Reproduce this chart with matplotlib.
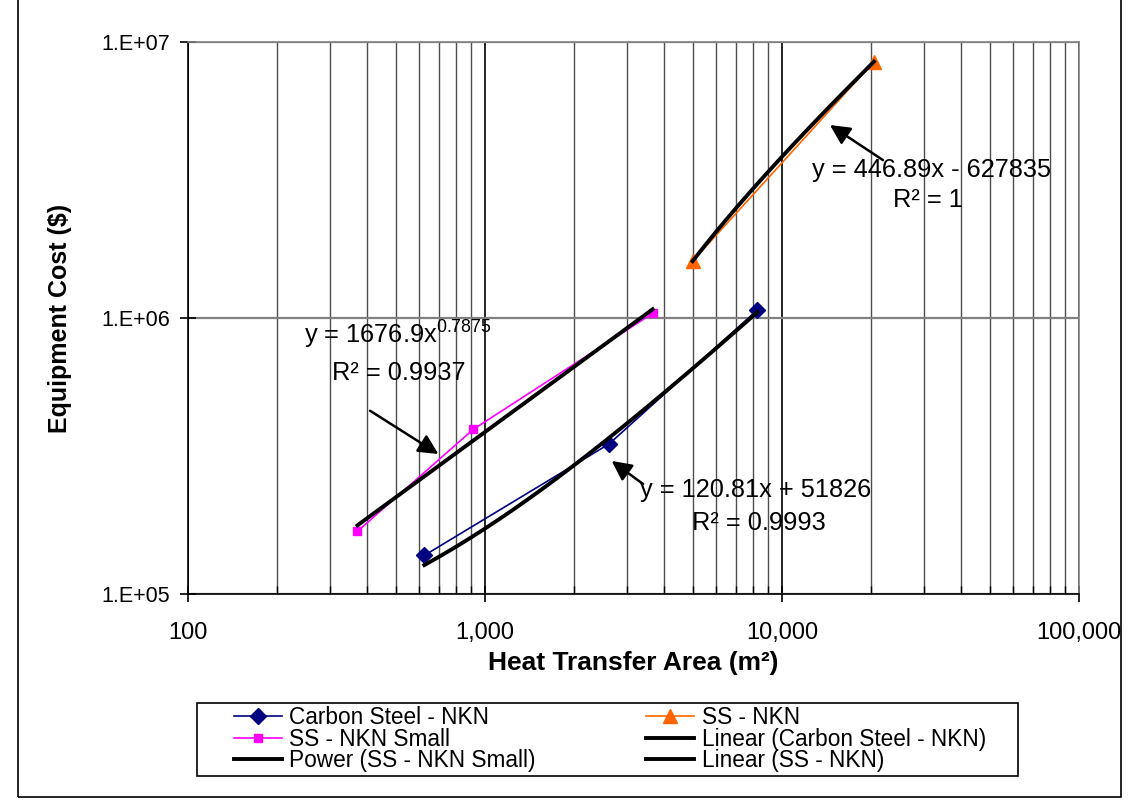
import numpy as np
import matplotlib
matplotlib.use("Agg")
import matplotlib.pyplot as plt
from matplotlib.patches import Rectangle
from matplotlib.ticker import FixedLocator, FuncFormatter, NullFormatter

plt.rcParams['font.family'] = ['Liberation Sans', 'DejaVu Sans']
plt.rcParams['mathtext.fontset'] = 'custom'
plt.rcParams['mathtext.rm'] = 'Liberation Sans'
plt.rcParams['mathtext.it'] = 'Liberation Sans:italic'

# heat transfer area (m2) and equipment cost ($) for each exchanger type
area_cs = [625, 2620, 8250]
cost_cs = [138000, 350000, 1068000]

area_ss = [5000, 20400]
cost_ss = [1606600, 8488700]

area_small = [372, 913, 3670]
cost_small = [168700, 395000, 1040000]

# trendline coefficients
cs_slope, cs_icpt = 120.81, 51826
ss_slope, ss_icpt = 446.89, -627835
small_coef, small_exp = 1676.9, 0.7875
cs_r2, ss_r2, small_r2 = 0.9993, 1, 0.9937

fig = plt.figure(figsize=(11.32, 8), dpi=100)
ax = fig.add_axes([188/1132, 1 - 594/800, (1079 - 188)/1132, (594 - 42)/800])
ax.set_xscale('log')
ax.set_yscale('log')
ax.set_xlim(100, 100000)
ax.set_ylim(1e5, 1e7)

# gridlines
ax.xaxis.set_minor_locator(FixedLocator([m * 10**e for e in (2, 3, 4) for m in range(2, 10)]))
ax.xaxis.set_minor_formatter(NullFormatter())
ax.yaxis.set_minor_locator(FixedLocator([]))
ax.grid(True, axis='x', which='major', color='black', lw=1.2)
ax.grid(True, axis='x', which='minor', color='#4d4d4d', lw=1.0)
ax.grid(True, axis='y', which='major', color='#808080', lw=1.6)
ax.set_axisbelow(True)

# data series
h_cs, = ax.plot(area_cs, cost_cs, color='#000080', lw=1.2, marker='D', ms=8,
                label='Carbon Steel - NKN', zorder=3)
h_ss, = ax.plot(area_ss, cost_ss, color='#FF6600', lw=1.2, marker='^', ms=10,
                label='SS - NKN', zorder=3)
h_small, = ax.plot(area_small, cost_small, color='#FF00FF', lw=1.2, marker='s', ms=6,
                   label='SS - NKN Small', zorder=3)

# trendlines
xs = np.geomspace(area_cs[0], area_cs[-1], 200)
h_tcs, = ax.plot(xs, cs_slope * xs + cs_icpt, color='black', lw=2.8,
                 label='Linear (Carbon Steel - NKN)', zorder=4)
xs = np.geomspace(area_ss[0], area_ss[-1], 200)
h_tss, = ax.plot(xs, ss_slope * xs + ss_icpt, color='black', lw=2.8,
                 label='Linear (SS - NKN)', zorder=4)
xs = np.geomspace(area_small[0], area_small[-1], 200)
h_tsm, = ax.plot(xs, small_coef * xs**small_exp, color='black', lw=2.8,
                 label='Power (SS - NKN Small)', zorder=4)

# trendline equations
eq_kw = dict(transform=ax.transAxes, ha='center', va='center', fontsize=18.3)
ax.text(0.834, 0.768, f'y = {ss_slope:.2f}x - {abs(ss_icpt)}', **eq_kw)
ax.text(0.831, 0.714, f'R² = {ss_r2}', **eq_kw)
ax.text(0.236, 0.470, f'y = {small_coef}x' + '$^{' + f'{small_exp}' + '}$', **eq_kw)
ax.text(0.237, 0.400, f'R² = {small_r2}', **eq_kw)
ax.text(0.637, 0.1884, f'y = {cs_slope}x + {cs_icpt}', **eq_kw)
ax.text(0.641, 0.1286, f'R² = {cs_r2}', **eq_kw)

arrow = dict(arrowstyle='-|>', color='black', lw=1.8, mutation_scale=30, shrinkA=0, shrinkB=0)
ax.annotate('', xy=(0.7205, 0.8496), xytext=(0.780, 0.786),
            xycoords='axes fraction', textcoords='axes fraction', arrowprops=arrow)
ax.annotate('', xy=(0.281, 0.2536), xytext=(0.2043, 0.332),
            xycoords='axes fraction', textcoords='axes fraction', arrowprops=arrow)
ax.annotate('', xy=(0.4755, 0.241), xytext=(0.5107, 0.1993),
            xycoords='axes fraction', textcoords='axes fraction', arrowprops=arrow)

# axes styling
for side in ('left', 'bottom'):
    ax.spines[side].set_color('black')
    ax.spines[side].set_linewidth(1.2)
for side in ('top', 'right'):
    ax.spines[side].set_color('#808080')
    ax.spines[side].set_linewidth(1.2)

ax.yaxis.set_major_locator(FixedLocator([1e5, 1e6, 1e7]))
ax.yaxis.set_major_formatter(FuncFormatter(lambda v, p: f'1.E+{int(round(np.log10(v))):02d}'))
ax.xaxis.set_major_formatter(FuncFormatter(lambda v, p: f'{int(v):,}'))
ax.tick_params(axis='both', which='major', direction='inout', length=12, width=1.2, color='black')
ax.tick_params(axis='x', which='minor', direction='in', length=6, width=1.0)
ax.tick_params(axis='y', which='major', labelsize=15.5, pad=7)
ax.tick_params(axis='x', which='major', labelsize=17, pad=14)

ax.set_xlabel('Heat Transfer Area (m²)', fontsize=19, fontweight='bold')
ax.xaxis.set_label_coords(0.5, -0.104)
ax.set_ylabel('Equipment Cost ($)', fontsize=18, fontweight='bold')
ax.yaxis.set_label_coords(-0.130, 0.5)

# legend, filled row by row like the spreadsheet
handles = [h_cs, h_small, h_tsm, h_ss, h_tcs, h_tss]
leg = fig.legend(handles=handles, labels=[h.get_label() for h in handles],
                 ncol=2, loc='upper left', bbox_to_anchor=(234/1132, 1 - 706/800),
                 fontsize=16.3, labelspacing=-0.06, handlelength=2.1,
                 handletextpad=0.35, columnspacing=4.87, borderpad=0,
                 borderaxespad=0, frameon=False)
fig.add_artist(Rectangle((197/1132, 1 - 776/800), (1018 - 197)/1132, 73/800,
                         transform=fig.transFigure, fill=False, edgecolor='black', lw=1.2))

# chart border
fig.add_artist(Rectangle((18/1132, 3/800), (1121 - 18)/1132, 1.05, transform=fig.transFigure,
                         fill=False, edgecolor='black', lw=1.2))

fig.savefig('out.png', dpi=100)
